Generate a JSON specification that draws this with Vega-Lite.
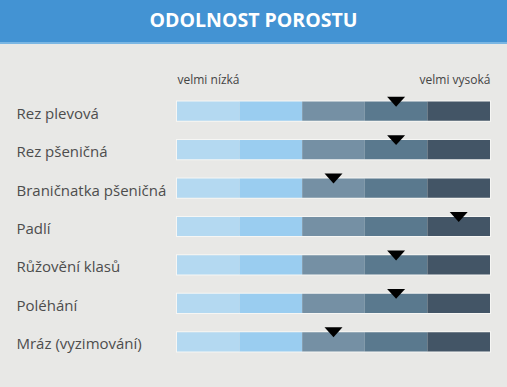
{
  "$schema": "https://vega.github.io/schema/vega-lite/v6.json",
  "background": "#e8e8e6",
  "padding": {"left": 0, "top": 0, "right": 0, "bottom": 26},
  "spacing": 0,
  "config": {"view": {"stroke": null}, "font": "Open Sans"},
  "datasets": {
    "items": [
      {"item": "Rez plevová", "score": 3.5},
      {"item": "Rez pšeničná", "score": 3.5},
      {"item": "Braničnatka pšeničná", "score": 2.5},
      {"item": "Padlí", "score": 4.5},
      {"item": "Růžovění klasů", "score": 3.5},
      {"item": "Poléhání", "score": 3.5},
      {"item": "Mráz (vyzimování)", "score": 2.5}
    ],
    "segs": [
      {"item": "Rez plevová", "level": 1, "start": 0, "end": 1},
      {"item": "Rez plevová", "level": 2, "start": 1, "end": 2},
      {"item": "Rez plevová", "level": 3, "start": 2, "end": 3},
      {"item": "Rez plevová", "level": 4, "start": 3, "end": 4},
      {"item": "Rez plevová", "level": 5, "start": 4, "end": 5},
      {"item": "Rez pšeničná", "level": 1, "start": 0, "end": 1},
      {"item": "Rez pšeničná", "level": 2, "start": 1, "end": 2},
      {"item": "Rez pšeničná", "level": 3, "start": 2, "end": 3},
      {"item": "Rez pšeničná", "level": 4, "start": 3, "end": 4},
      {"item": "Rez pšeničná", "level": 5, "start": 4, "end": 5},
      {"item": "Braničnatka pšeničná", "level": 1, "start": 0, "end": 1},
      {"item": "Braničnatka pšeničná", "level": 2, "start": 1, "end": 2},
      {"item": "Braničnatka pšeničná", "level": 3, "start": 2, "end": 3},
      {"item": "Braničnatka pšeničná", "level": 4, "start": 3, "end": 4},
      {"item": "Braničnatka pšeničná", "level": 5, "start": 4, "end": 5},
      {"item": "Padlí", "level": 1, "start": 0, "end": 1},
      {"item": "Padlí", "level": 2, "start": 1, "end": 2},
      {"item": "Padlí", "level": 3, "start": 2, "end": 3},
      {"item": "Padlí", "level": 4, "start": 3, "end": 4},
      {"item": "Padlí", "level": 5, "start": 4, "end": 5},
      {"item": "Růžovění klasů", "level": 1, "start": 0, "end": 1},
      {"item": "Růžovění klasů", "level": 2, "start": 1, "end": 2},
      {"item": "Růžovění klasů", "level": 3, "start": 2, "end": 3},
      {"item": "Růžovění klasů", "level": 4, "start": 3, "end": 4},
      {"item": "Růžovění klasů", "level": 5, "start": 4, "end": 5},
      {"item": "Poléhání", "level": 1, "start": 0, "end": 1},
      {"item": "Poléhání", "level": 2, "start": 1, "end": 2},
      {"item": "Poléhání", "level": 3, "start": 2, "end": 3},
      {"item": "Poléhání", "level": 4, "start": 3, "end": 4},
      {"item": "Poléhání", "level": 5, "start": 4, "end": 5},
      {"item": "Mráz (vyzimování)", "level": 1, "start": 0, "end": 1},
      {"item": "Mráz (vyzimování)", "level": 2, "start": 1, "end": 2},
      {"item": "Mráz (vyzimování)", "level": 3, "start": 2, "end": 3},
      {"item": "Mráz (vyzimování)", "level": 4, "start": 3, "end": 4},
      {"item": "Mráz (vyzimování)", "level": 5, "start": 4, "end": 5}
    ]
  },
  "vconcat": [
    {
      "width": 507,
      "height": 42,
      "view": {"fill": "#4393d3", "stroke": null},
      "data": {"values": [{"t": "ODOLNOST POROSTU"}]},
      "mark": {"type": "text", "color": "#ffffff", "fontSize": 19.5, "fontWeight": "bold", "font": "Open Sans"},
      "encoding": {"text": {"field": "t"}}
    },
    {
      "width": 507,
      "height": 2,
      "view": {"fill": "#7ab6e3", "stroke": null},
      "data": {"values": [{"t": ""}]},
      "mark": {"type": "text", "fontSize": 0},
      "encoding": {"text": {"field": "t"}}
    },
    {
      "width": 507,
      "height": 269,
      "encoding": {
        "y": {
          "field": "item",
          "type": "nominal",
          "sort": null,
          "scale": {"paddingInner": 0.5, "paddingOuter": 0.25},
          "axis": {
            "title": null,
            "domain": false,
            "ticks": false,
            "tickSize": 0,
            "labelAlign": "left",
            "labelPadding": -16,
            "labelOffset": 2.5,
            "minExtent": 0,
            "labelFontSize": 15,
            "labelColor": "#4d4d4d",
            "labelFont": "Open Sans"
          }
        }
      },
      "layer": [
        {
          "data": {"name": "items"},
          "mark": {"type": "bar", "fill": "#e8e8e6", "stroke": "#f6f6f4", "strokeWidth": 2},
          "encoding": {
            "x": {
              "datum": 0,
              "type": "quantitative",
              "scale": {"domain": [0, 5], "range": [177, 490], "nice": false, "zero": false},
              "axis": {
                "orient": "top",
                "values": [0, 5],
                "title": null,
                "grid": false,
                "domain": false,
                "ticks": false,
                "tickSize": 0,
                "labelExpr": "datum.value == 0 ? 'velmi nízká' : 'velmi vysoká'",
                "labelAlign": {"expr": "datum.value == 0 ? 'left' : 'right'"},
                "labelBaseline": "alphabetic",
                "labelPadding": 9,
                "minExtent": 48,
                "labelFontSize": 12,
                "labelColor": "#444444",
                "labelFont": "Open Sans",
                "labelFlush": false
              }
            },
            "x2": {"datum": 5}
          }
        },
        {
          "data": {"name": "segs"},
          "mark": {"type": "bar"},
          "encoding": {
            "x": {"field": "start", "type": "quantitative"},
            "x2": {"field": "end"},
            "color": {
              "field": "level",
              "type": "ordinal",
              "legend": null,
              "scale": {"domain": [1, 2, 3, 4, 5], "range": ["#b4d9f1", "#9acdf0", "#7590a4", "#5a798e", "#435566"]}
            }
          }
        },
        {
          "data": {"name": "items"},
          "mark": {"type": "point", "shape": "M-1,-0.55L1,-0.55L0,0.55Z", "size": 324, "filled": true, "fill": "#000000", "opacity": 1, "strokeWidth": 0, "yOffset": -9.5},
          "encoding": {
            "x": {"field": "score", "type": "quantitative"}
          }
        }
      ]
    }
  ]
}
